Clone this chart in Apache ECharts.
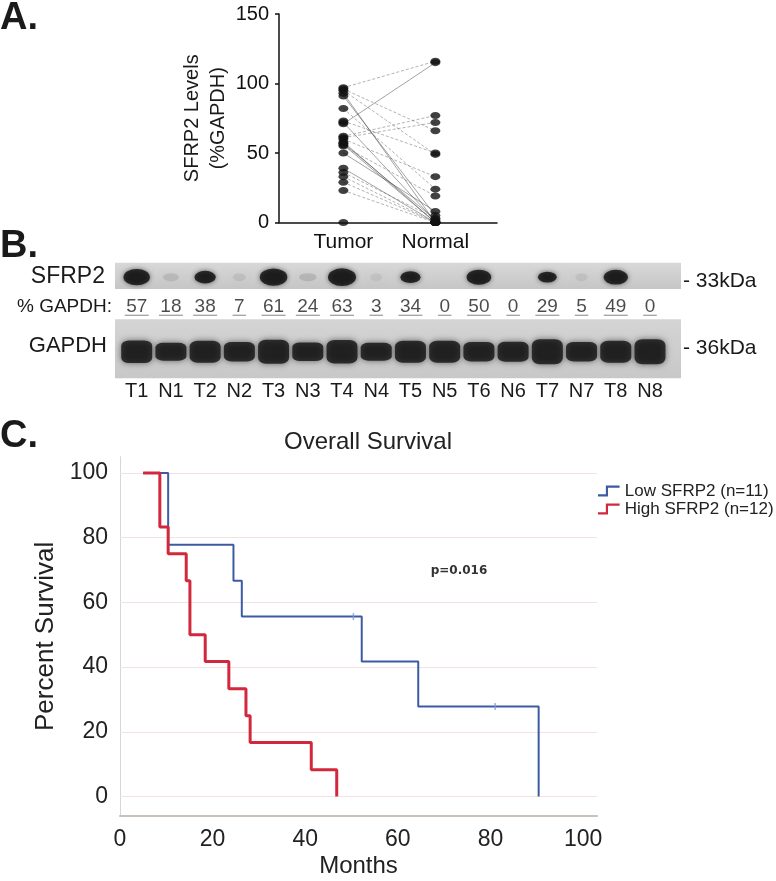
<!DOCTYPE html>
<html><head><meta charset="utf-8">
<script src="https://cdn.jsdelivr.net/npm/echarts@6/dist/echarts.min.js"></script>
<style>html,body{margin:0;padding:0;background:#fff}#c{width:776px;height:881px}</style>
</head><body><div id="c"></div>
<script>
// ---------- Panel A: paired SFRP2 levels (%GAPDH) ----------
const pairTumor  = [97, 71, 96, 95, 93, 91, 82, 73, 72, 62, 61, 60, 58, 57, 56, 55, 50, 39, 36, 33, 29, 23, 0];
const pairNormal = [116,115,66, 49, 0,  5,  24, 50, 1,  77, 72, 33, 0,  2,  0,  19, 8,  0,  3,  0,  0,  0,  0];
const pairDashed = [1,  0,  1,  1,  0,  0,  1,  1,  0,  1,  1,  1,  0,  0,  0,  1,  0,  0,  1,  1,  1,  1,  1];
const groupsA = ['Tumor', 'Normal'];

// ---------- Panel B: western blot ----------
const lanes = ['T1','N1','T2','N2','T3','N3','T4','N4','T5','N5','T6','N6','T7','N7','T8','N8'];
const sfrp2Pct = [57, 18, 38, 7, 61, 24, 63, 3, 34, 0, 50, 0, 29, 5, 49, 0];
const gapdhDensity = [0.85, 0.55, 0.8, 0.65, 0.95, 0.6, 0.9, 0.55, 0.8, 0.8, 0.65, 0.7, 1.0, 0.65, 0.8, 1.0];

// ---------- Panel C: Kaplan-Meier overall survival ----------
const lowName = 'Low SFRP2 (n=11)';
const lowTime = [5, 10.4, 24.5, 26.3, 52.2, 64.4, 90.4];
const lowSurv = [100, 77.8, 66.7, 55.6, 41.7, 27.8, 0];
const lowCensorTime = [50.4, 81];
const lowCensorSurv = [55.6, 27.8];
const highName = 'High SFRP2 (n=12)';
const highTime = [5, 8.6, 10.4, 14.3, 15.1, 18.4, 23.5, 27.2, 28.1, 41.3, 46.8];
const highSurv = [100, 83.3, 75, 66.7, 50, 41.7, 33.3, 25, 16.7, 8.3, 0];
const xTicksC = [0, 20, 40, 60, 80, 100];
const yTicksC = [0, 20, 40, 60, 80, 100];

const FONT = 'Liberation Sans, Arial, sans-serif';
const chart = echarts.init(document.getElementById('c'), null, {renderer: 'canvas'});

function txt(text, x, y, size, align, weight, family, color) {
  return {type: 'text', x: x, y: y, silent: true,
    style: {text: text, font: (weight || 'normal') + ' ' + size + 'px ' + (family || FONT),
      fill: color || '#1a1a1a', textAlign: align || 'left', textVerticalAlign: 'middle'}};
}

const laneMin = -0.634, laneMax = 15.906;
const stepIcon = 'path://M0,9 L8,9 L8,0 L22,0 L22,2.2 L10.2,2.2 L10.2,11.2 L0,11.2 Z';

const option = {
  animation: false,
  backgroundColor: '#ffffff',
  textStyle: {fontFamily: FONT},
  grid: [
    {left: 279, top: 14, width: 218, height: 208.5},
    {left: 115, top: 262.7, width: 566, height: 26.3, show: true, borderWidth: 0,
      backgroundColor: new echarts.graphic.LinearGradient(0, 0, 0, 1, [{offset: 0, color: '#d8d8d8'}, {offset: 1, color: '#c6c6c6'}])},
    {left: 115, top: 294, width: 566, height: 21.3},
    {left: 115, top: 319.3, width: 566, height: 59, show: true, borderWidth: 0,
      backgroundColor: new echarts.graphic.LinearGradient(0, 0, 0, 1, [{offset: 0, color: '#d4d4d4'}, {offset: 1, color: '#c8c8c8'}])},
    {left: 120, top: 456.7, width: 477, height: 359.3}
  ],
  xAxis: [
    {gridIndex: 0, type: 'value', min: -0.7, max: 1.67,
      axisLine: {onZero: false, lineStyle: {color: '#111', width: 1.5}}, axisTick: {show: false}, splitLine: {show: false},
      axisLabel: {customValues: [0, 1], formatter: v => groupsA[Math.round(v)], fontSize: 21, color: '#111', margin: 9}},
    {gridIndex: 1, type: 'value', min: laneMin, max: laneMax, show: false},
    {gridIndex: 2, type: 'value', min: laneMin, max: laneMax, show: false},
    {gridIndex: 3, type: 'value', min: laneMin, max: laneMax,
      axisLine: {show: false}, axisTick: {show: false}, splitLine: {show: false},
      axisLabel: {customValues: lanes.map((l, i) => i), formatter: v => lanes[Math.round(v)], fontSize: 20, color: '#1a1a1a', margin: 3}},
    {gridIndex: 4, type: 'value', min: 0, max: 103,
      axisLine: {onZero: false, lineStyle: {color: '#c9c0ba', width: 2}}, axisTick: {show: false}, splitLine: {show: false},
      axisLabel: {customValues: xTicksC, fontSize: 23, color: '#222', margin: 12},
      name: 'Months', nameLocation: 'middle', nameGap: 38, nameTextStyle: {fontSize: 24, color: '#222'}}
  ],
  yAxis: [
    {gridIndex: 0, type: 'value', min: 0, max: 150, interval: 50,
      axisLine: {show: true, onZero: false, lineStyle: {color: '#111', width: 1.5}},
      axisTick: {show: true, length: 4, lineStyle: {color: '#111', width: 1.5}}, splitLine: {show: false},
      axisLabel: {fontSize: 20, color: '#111', margin: 10},
      name: 'SFRP2 Levels\n(%GAPDH)', nameLocation: 'middle', nameGap: 31, nameRotate: 90,
      nameTextStyle: {fontSize: 20, color: '#1a1a1a', lineHeight: 26}},
    {gridIndex: 1, type: 'value', min: 0, max: 1, show: false},
    {gridIndex: 2, type: 'value', min: 0, max: 1, show: false},
    {gridIndex: 3, type: 'value', min: 0, max: 1, show: false},
    {gridIndex: 4, type: 'value', min: -6, max: 105,
      axisLine: {show: true, onZero: false, lineStyle: {color: '#d6d6d6', width: 1}}, axisTick: {show: false}, splitLine: {show: false},
      axisLabel: {customValues: yTicksC, fontSize: 23, color: '#222', margin: 12},
      name: 'Percent Survival', nameLocation: 'middle', nameGap: 60, nameRotate: 90,
      nameTextStyle: {fontSize: 26, color: '#222'}}
  ],
  legend: {
    left: 598, top: 482, orient: 'vertical', itemGap: 0, itemWidth: 22, itemHeight: 11,
    textStyle: {fontSize: 17, color: '#222', lineHeight: 18}, padding: 0,
    data: [{name: lowName, icon: stepIcon}, {name: highName, icon: stepIcon}]
  },
  series: [
    // Panel A connecting lines
    {type: 'lines', coordinateSystem: 'cartesian2d', xAxisIndex: 0, yAxisIndex: 0, polyline: false, silent: true, z: 2,
      data: pairTumor.map((t, i) => ({coords: [[0, t], [1, pairNormal[i]]],
        lineStyle: pairDashed[i] ? {color: '#666', width: 1, type: [3, 2]} : {color: '#333', width: 0.9, type: 'solid'}}))},
    {type: 'scatter', xAxisIndex: 0, yAxisIndex: 0, symbol: 'circle', symbolSize: [10, 7], z: 3,
      itemStyle: {color: '#111'}, data: pairTumor.map(v => [0, v])},
    {type: 'scatter', xAxisIndex: 0, yAxisIndex: 0, symbol: 'circle', symbolSize: [10, 7], z: 3,
      itemStyle: {color: '#111'}, data: pairNormal.map(v => [1, v])},
    // Panel B: SFRP2 bands
    {type: 'scatter', xAxisIndex: 1, yAxisIndex: 1, symbol: 'circle', silent: true,
      data: sfrp2Pct.map((v, i) => ({value: [i, 0.45],
        symbolSize: v > 0 ? [11 + 0.27 * v, v >= 29 ? 5 + 0.2 * v : 8] : 0,
        itemStyle: {color: v >= 29 ? 'rgba(8,8,8,0.96)' : 'rgba(60,60,60,' + (0.08 + v * 0.005) + ')',
          shadowBlur: 5, shadowColor: v >= 29 ? 'rgba(0,0,0,0.7)' : 'rgba(0,0,0,0.1)'}}))},
    // Panel B: % GAPDH numbers with underline
    {type: 'scatter', xAxisIndex: 2, yAxisIndex: 2, symbol: 'rect', silent: true,
      data: sfrp2Pct.map((v, i) => ({value: [i, 0, v], symbolSize: [String(v).length * 10.5 + 3, 1.3]})),
      itemStyle: {color: '#8a8a8a'},
      label: {show: true, position: 'top', distance: 0, offset: [0, 2], formatter: p => p.value[2],
        fontSize: 19, color: '#1e1e1e'}},
    // Panel B: GAPDH bands
    {type: 'scatter', xAxisIndex: 3, yAxisIndex: 3, symbol: 'roundRect', silent: true,
      data: gapdhDensity.map((d, i) => ({value: [i, 0.45], symbolSize: [31, 9 + 16 * d]})),
      itemStyle: {color: 'rgba(12,12,12,0.95)', borderRadius: 8, shadowBlur: 6, shadowColor: 'rgba(0,0,0,0.7)'}},
    // Panel C: gridlines + censor marks
    {type: 'scatter', xAxisIndex: 4, yAxisIndex: 4, symbol: 'rect', symbolSize: [1.5, 7], z: 4, silent: true,
      itemStyle: {color: '#7d97d6'}, data: lowCensorTime.map((t, i) => [t, lowCensorSurv[i]]),
      markLine: {silent: true, z: 1, symbol: ['none', 'none'], label: {show: false},
        lineStyle: {color: '#f2e3e3', width: 1.2, type: 'solid'},
        data: yTicksC.map(v => ({yAxis: v}))}},
    {name: lowName, type: 'line', xAxisIndex: 4, yAxisIndex: 4, step: 'end', showSymbol: false, z: 3,
      color: '#3d5ba3', lineStyle: {color: '#3d5ba3', width: 2},
      data: lowTime.map((t, i) => [t, lowSurv[i]])},
    {name: highName, type: 'line', xAxisIndex: 4, yAxisIndex: 4, step: 'end', showSymbol: false, z: 3,
      color: '#d2283e', lineStyle: {color: '#d2283e', width: 3},
      data: highTime.map((t, i) => [t, highSurv[i]])}
  ],
  graphic: [
    txt('A.', 0, 19, 38, 'left', 'bold'),
    txt('B.', 0, 247, 38, 'left', 'bold'),
    txt('C.', 0, 437, 38, 'left', 'bold'),
    txt('SFRP2', 105, 277, 23, 'right'),
    txt('% GAPDH:', 112, 306.7, 19, 'right'),
    txt('GAPDH', 107, 345.5, 22, 'right'),
    txt('- 33kDa', 683, 281, 21, 'left'),
    txt('- 36kDa', 683, 348, 21, 'left'),
    txt('Overall Survival', 368, 442, 24, 'center', 'normal', FONT, '#222'),
    txt('p=0.016', 459, 571, 12, 'center', 'bold', 'DejaVu Sans, sans-serif', '#333')
  ]
};
chart.setOption(option);
</script>
</body></html>
